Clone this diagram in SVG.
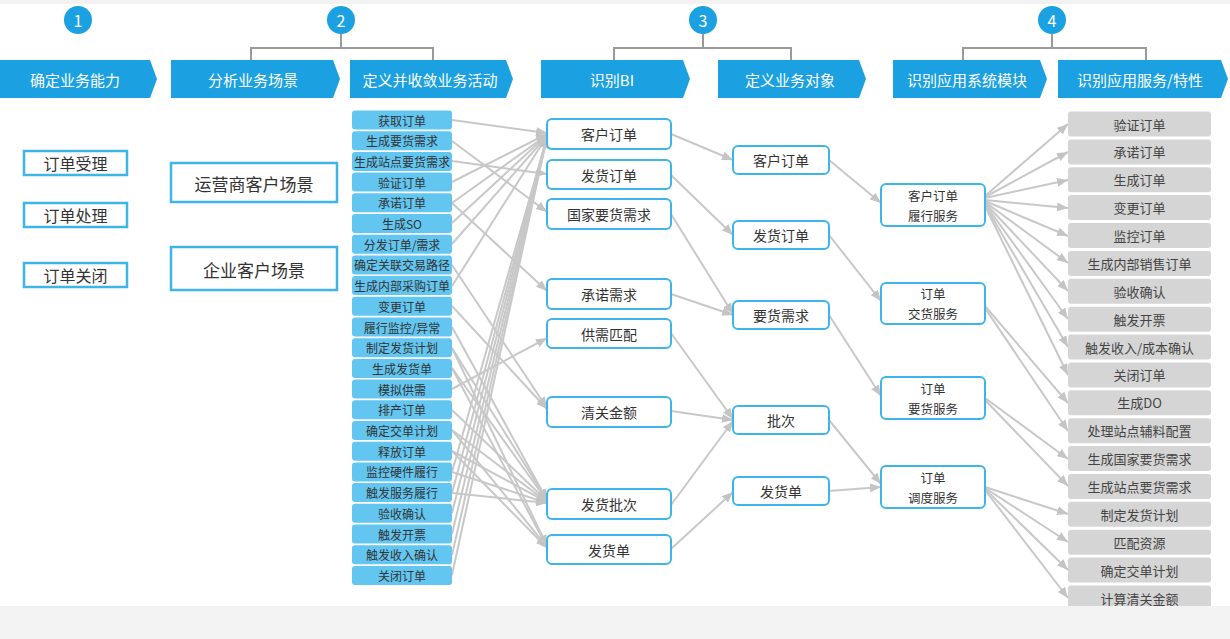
<svg xmlns="http://www.w3.org/2000/svg" width="1230" height="639" viewBox="0 0 1230 639">
<defs>
<marker id="ah" markerUnits="userSpaceOnUse" markerWidth="11" markerHeight="9" refX="11" refY="4.5" orient="auto"><path d="M0,0 L11,4.5 L0,9 z" fill="#c4c4c4"/></marker>
<style>
text{font-family:"Noto Sans CJK SC","Noto Sans",sans-serif;text-anchor:middle;dominant-baseline:central}
.num{fill:#1ba1e2}
.numt{fill:#fff;font-size:16px}
.ban{fill:#1ba1e2}
.bant{fill:#fff;font-size:15px}
.brk{fill:none;stroke:#9a9a9a;stroke-width:2}
.sq{fill:#fff;stroke:#3db5e8;stroke-width:2.5}
.sqt{fill:#333;font-size:17px}
.act{fill:#62c6f1}
.actt{fill:#333;font-size:12px}
.rb{fill:#fff;stroke:#3db5e8;stroke-width:2;rx:5}
.rbt{fill:#333;font-size:14px}
.mt{fill:#333;font-size:12.5px}
.svc{fill:#d5d5d5}
.svct{fill:#444;font-size:13px}
.cn line{stroke:#c8c8c8;stroke-width:2;marker-end:url(#ah)}
</style>
</defs>
<rect x="0" y="0" width="1230" height="639" fill="#fff"/>
<rect x="0" y="0" width="1230" height="4" fill="#f2f2f3"/>

<g id="header">
<circle class="num" cx="78" cy="20" r="14"/><text class="numt" x="78" y="20">1</text>
<circle class="num" cx="341" cy="20" r="14"/><text class="numt" x="341" y="20">2</text>
<circle class="num" cx="703" cy="20" r="14"/><text class="numt" x="703" y="20">3</text>
<circle class="num" cx="1052" cy="20" r="14"/><text class="numt" x="1052" y="20">4</text>
<path class="brk" d="M341,34 V48 M251,60 V48 H433 V60"/>
<path class="brk" d="M703,34 V48 M614,60 V48 H791 V60"/>
<path class="brk" d="M1052,34 V48 M963,60 V48 H1146 V60"/>
<polygon class="ban" points="0,60 150,60 157,79 150,98 0,98"/><text class="bant" x="75" y="79">确定业务能力</text>
<polygon class="ban" points="171,60 333,60 340,79 333,98 171,98"/><text class="bant" x="253" y="79">分析业务场景</text>
<polygon class="ban" points="350,60 506,60 513,79 506,98 350,98"/><text class="bant" x="430" y="79">定义并收敛业务活动</text>
<polygon class="ban" points="541,60 683,60 690,79 683,98 541,98"/><text class="bant" x="612" y="79">识别BI</text>
<polygon class="ban" points="718,60 859,60 866,79 859,98 718,98"/><text class="bant" x="790" y="79">定义业务对象</text>
<polygon class="ban" points="893,60 1040,60 1047,79 1040,98 893,98"/><text class="bant" x="967" y="79">识别应用系统模块</text>
<polygon class="ban" points="1058,60 1221,60 1228,79 1221,98 1058,98"/><text class="bant" x="1140" y="79">识别应用服务/特性</text>
</g>

<g id="cap1"><rect class="sq" x="24" y="151" width="103" height="24"/><text class="sqt" x="75.5" y="163" style="font-size:16px">订单受理</text></g>
<g id="cap2"><rect class="sq" x="24" y="203" width="103" height="24"/><text class="sqt" x="75.5" y="215" style="font-size:16px">订单处理</text></g>
<g id="cap3"><rect class="sq" x="24" y="263" width="103" height="24"/><text class="sqt" x="75.5" y="275" style="font-size:16px">订单关闭</text></g>
<g id="scn1"><rect class="sq" x="171" y="163" width="166" height="39"/><text class="sqt" x="254" y="183">运营商客户场景</text></g>
<g id="scn2"><rect class="sq" x="171" y="247" width="166" height="43"/><text class="sqt" x="254" y="269">企业客户场景</text></g>

<g id="connectors" class="cn">
<line x1="452" y1="120" x2="547" y2="133"/>
<line x1="452" y1="182" x2="547" y2="134"/>
<line x1="452" y1="203" x2="547" y2="135"/>
<line x1="452" y1="223" x2="547" y2="135"/>
<line x1="452" y1="244" x2="547" y2="136"/>
<line x1="452" y1="286" x2="547" y2="136"/>
<line x1="452" y1="472" x2="547" y2="137"/>
<line x1="452" y1="493" x2="547" y2="137"/>
<line x1="452" y1="513" x2="547" y2="137"/>
<line x1="452" y1="534" x2="547" y2="137"/>
<line x1="452" y1="555" x2="547" y2="137"/>
<line x1="452" y1="575" x2="547" y2="137"/>
<line x1="452" y1="161" x2="547" y2="174"/>
<line x1="452" y1="141" x2="547" y2="212"/>
<line x1="452" y1="203" x2="547" y2="291"/>
<line x1="452" y1="389" x2="547" y2="338"/>
<line x1="452" y1="265" x2="547" y2="408"/>
<line x1="452" y1="306" x2="547" y2="409"/>
<line x1="452" y1="327" x2="547" y2="500"/>
<line x1="452" y1="348" x2="547" y2="500"/>
<line x1="452" y1="368" x2="547" y2="501"/>
<line x1="452" y1="410" x2="547" y2="501"/>
<line x1="452" y1="430" x2="547" y2="502"/>
<line x1="452" y1="451" x2="547" y2="502"/>
<line x1="452" y1="472" x2="547" y2="503"/>
<line x1="452" y1="493" x2="547" y2="503"/>
<line x1="452" y1="348" x2="547" y2="546"/>
<line x1="452" y1="368" x2="547" y2="547"/>
<line x1="452" y1="430" x2="547" y2="547"/>
<line x1="452" y1="451" x2="547" y2="548"/>
<line x1="671" y1="134" x2="733" y2="160"/>
<line x1="671" y1="175" x2="733" y2="235"/>
<line x1="671" y1="214" x2="733" y2="314"/>
<line x1="671" y1="294" x2="733" y2="315"/>
<line x1="671" y1="333" x2="733" y2="419"/>
<line x1="671" y1="411" x2="733" y2="420"/>
<line x1="671" y1="505" x2="733" y2="421"/>
<line x1="671" y1="549" x2="733" y2="492"/>
<line x1="829" y1="160" x2="881" y2="203"/>
<line x1="829" y1="235" x2="881" y2="301"/>
<line x1="829" y1="315" x2="881" y2="396"/>
<line x1="829" y1="420" x2="881" y2="484"/>
<line x1="829" y1="491" x2="881" y2="487"/>
<line x1="985" y1="196" x2="1068" y2="124"/>
<line x1="985" y1="197" x2="1068" y2="152"/>
<line x1="985" y1="198" x2="1068" y2="180"/>
<line x1="985" y1="200" x2="1068" y2="208"/>
<line x1="985" y1="201" x2="1068" y2="236"/>
<line x1="985" y1="202" x2="1068" y2="263"/>
<line x1="985" y1="203" x2="1068" y2="291"/>
<line x1="985" y1="204" x2="1068" y2="319"/>
<line x1="985" y1="205" x2="1068" y2="347"/>
<line x1="985" y1="206" x2="1068" y2="375"/>
<line x1="985" y1="306" x2="1068" y2="403"/>
<line x1="985" y1="308" x2="1068" y2="431"/>
<line x1="985" y1="398" x2="1068" y2="459"/>
<line x1="985" y1="400" x2="1068" y2="486"/>
<line x1="985" y1="487" x2="1068" y2="514"/>
<line x1="985" y1="488" x2="1068" y2="542"/>
<line x1="985" y1="489" x2="1068" y2="570"/>
<line x1="985" y1="490" x2="1068" y2="598"/>
</g>

<g id="act01"><rect class="act" x="352" y="110.5" width="100" height="19" rx="3"/><text class="actt" x="402" y="120">获取订单</text></g>
<g id="act02"><rect class="act" x="352" y="131.2" width="100" height="19" rx="3"/><text class="actt" x="402" y="140.7">生成要货需求</text></g>
<g id="act03"><rect class="act" x="352" y="151.9" width="100" height="19" rx="3"/><text class="actt" x="402" y="161.4">生成站点要货需求</text></g>
<g id="act04"><rect class="act" x="352" y="172.6" width="100" height="19" rx="3"/><text class="actt" x="402" y="182.1">验证订单</text></g>
<g id="act05"><rect class="act" x="352" y="193.3" width="100" height="19" rx="3"/><text class="actt" x="402" y="202.8">承诺订单</text></g>
<g id="act06"><rect class="act" x="352" y="214" width="100" height="19" rx="3"/><text class="actt" x="402" y="223.5">生成SO</text></g>
<g id="act07"><rect class="act" x="352" y="234.7" width="100" height="19" rx="3"/><text class="actt" x="402" y="244.2">分发订单/需求</text></g>
<g id="act08"><rect class="act" x="352" y="255.4" width="100" height="19" rx="3"/><text class="actt" x="402" y="264.9">确定关联交易路径</text></g>
<g id="act09"><rect class="act" x="352" y="276.1" width="100" height="19" rx="3"/><text class="actt" x="402" y="285.6">生成内部采购订单</text></g>
<g id="act10"><rect class="act" x="352" y="296.8" width="100" height="19" rx="3"/><text class="actt" x="402" y="306.3">变更订单</text></g>
<g id="act11"><rect class="act" x="352" y="317.5" width="100" height="19" rx="3"/><text class="actt" x="402" y="327">履行监控/异常</text></g>
<g id="act12"><rect class="act" x="352" y="338.2" width="100" height="19" rx="3"/><text class="actt" x="402" y="347.7">制定发货计划</text></g>
<g id="act13"><rect class="act" x="352" y="358.9" width="100" height="19" rx="3"/><text class="actt" x="402" y="368.4">生成发货单</text></g>
<g id="act14"><rect class="act" x="352" y="379.6" width="100" height="19" rx="3"/><text class="actt" x="402" y="389.1">模拟供需</text></g>
<g id="act15"><rect class="act" x="352" y="400.3" width="100" height="19" rx="3"/><text class="actt" x="402" y="409.8">排产订单</text></g>
<g id="act16"><rect class="act" x="352" y="421" width="100" height="19" rx="3"/><text class="actt" x="402" y="430.5">确定交单计划</text></g>
<g id="act17"><rect class="act" x="352" y="441.7" width="100" height="19" rx="3"/><text class="actt" x="402" y="451.2">释放订单</text></g>
<g id="act18"><rect class="act" x="352" y="462.4" width="100" height="19" rx="3"/><text class="actt" x="402" y="471.9">监控硬件履行</text></g>
<g id="act19"><rect class="act" x="352" y="483.1" width="100" height="19" rx="3"/><text class="actt" x="402" y="492.6">触发服务履行</text></g>
<g id="act20"><rect class="act" x="352" y="503.8" width="100" height="19" rx="3"/><text class="actt" x="402" y="513.3">验收确认</text></g>
<g id="act21"><rect class="act" x="352" y="524.5" width="100" height="19" rx="3"/><text class="actt" x="402" y="534">触发开票</text></g>
<g id="act22"><rect class="act" x="352" y="545.2" width="100" height="19" rx="3"/><text class="actt" x="402" y="554.7">触发收入确认</text></g>
<g id="act23"><rect class="act" x="352" y="565.9" width="100" height="19" rx="3"/><text class="actt" x="402" y="575.4">关闭订单</text></g>

<g id="bi1"><rect class="rb" x="547" y="119" width="124" height="30"/><text class="rbt" x="609" y="134">客户订单</text></g>
<g id="bi2"><rect class="rb" x="547" y="160" width="124" height="29"/><text class="rbt" x="609" y="174.5">发货订单</text></g>
<g id="bi3"><rect class="rb" x="547" y="199" width="124" height="30"/><text class="rbt" x="609" y="214">国家要货需求</text></g>
<g id="bi4"><rect class="rb" x="547" y="279" width="124" height="30"/><text class="rbt" x="609" y="294">承诺需求</text></g>
<g id="bi5"><rect class="rb" x="547" y="319" width="124" height="29"/><text class="rbt" x="609" y="333.5">供需匹配</text></g>
<g id="bi6"><rect class="rb" x="547" y="397" width="124" height="30"/><text class="rbt" x="609" y="412">清关金额</text></g>
<g id="bi7"><rect class="rb" x="547" y="489" width="124" height="30"/><text class="rbt" x="609" y="504">发货批次</text></g>
<g id="bi8"><rect class="rb" x="547" y="535" width="124" height="29"/><text class="rbt" x="609" y="549.5">发货单</text></g>

<g id="bo1"><rect class="rb" x="733" y="146" width="96" height="28"/><text class="rbt" x="781" y="160">客户订单</text></g>
<g id="bo2"><rect class="rb" x="733" y="221" width="96" height="28"/><text class="rbt" x="781" y="235">发货订单</text></g>
<g id="bo3"><rect class="rb" x="733" y="301" width="96" height="28"/><text class="rbt" x="781" y="315">要货需求</text></g>
<g id="bo4"><rect class="rb" x="733" y="406" width="96" height="28"/><text class="rbt" x="781" y="420">批次</text></g>
<g id="bo5"><rect class="rb" x="733" y="477" width="96" height="28"/><text class="rbt" x="781" y="491">发货单</text></g>

<g id="mod1"><rect class="rb" x="881" y="184" width="104" height="42"/><text class="mt" x="933" y="195">客户订单</text><text class="mt" x="933" y="215">履行服务</text></g>
<g id="mod2"><rect class="rb" x="881" y="283" width="104" height="41"/><text class="mt" x="933" y="293.5">订单</text><text class="mt" x="933" y="313.5">交货服务</text></g>
<g id="mod3"><rect class="rb" x="881" y="377" width="104" height="42"/><text class="mt" x="933" y="388">订单</text><text class="mt" x="933" y="408">要货服务</text></g>
<g id="mod4"><rect class="rb" x="881" y="466" width="104" height="42"/><text class="mt" x="933" y="477">订单</text><text class="mt" x="933" y="497">调度服务</text></g>

<g id="svc01"><rect class="svc" x="1068" y="111.5" width="143" height="25" rx="3"/><text class="svct" x="1139.5" y="124">验证订单</text></g>
<g id="svc02"><rect class="svc" x="1068" y="139.4" width="143" height="25" rx="3"/><text class="svct" x="1139.5" y="151.9">承诺订单</text></g>
<g id="svc03"><rect class="svc" x="1068" y="167.3" width="143" height="25" rx="3"/><text class="svct" x="1139.5" y="179.8">生成订单</text></g>
<g id="svc04"><rect class="svc" x="1068" y="195.1" width="143" height="25" rx="3"/><text class="svct" x="1139.5" y="207.6">变更订单</text></g>
<g id="svc05"><rect class="svc" x="1068" y="223" width="143" height="25" rx="3"/><text class="svct" x="1139.5" y="235.5">监控订单</text></g>
<g id="svc06"><rect class="svc" x="1068" y="250.9" width="143" height="25" rx="3"/><text class="svct" x="1139.5" y="263.4">生成内部销售订单</text></g>
<g id="svc07"><rect class="svc" x="1068" y="278.8" width="143" height="25" rx="3"/><text class="svct" x="1139.5" y="291.3">验收确认</text></g>
<g id="svc08"><rect class="svc" x="1068" y="306.7" width="143" height="25" rx="3"/><text class="svct" x="1139.5" y="319.2">触发开票</text></g>
<g id="svc09"><rect class="svc" x="1068" y="334.5" width="143" height="25" rx="3"/><text class="svct" x="1139.5" y="347">触发收入/成本确认</text></g>
<g id="svc10"><rect class="svc" x="1068" y="362.4" width="143" height="25" rx="3"/><text class="svct" x="1139.5" y="374.9">关闭订单</text></g>
<g id="svc11"><rect class="svc" x="1068" y="390.3" width="143" height="25" rx="3"/><text class="svct" x="1139.5" y="402.8">生成DO</text></g>
<g id="svc12"><rect class="svc" x="1068" y="418.2" width="143" height="25" rx="3"/><text class="svct" x="1139.5" y="430.7">处理站点辅料配置</text></g>
<g id="svc13"><rect class="svc" x="1068" y="446.1" width="143" height="25" rx="3"/><text class="svct" x="1139.5" y="458.6">生成国家要货需求</text></g>
<g id="svc14"><rect class="svc" x="1068" y="473.9" width="143" height="25" rx="3"/><text class="svct" x="1139.5" y="486.4">生成站点要货需求</text></g>
<g id="svc15"><rect class="svc" x="1068" y="501.8" width="143" height="25" rx="3"/><text class="svct" x="1139.5" y="514.3">制定发货计划</text></g>
<g id="svc16"><rect class="svc" x="1068" y="529.7" width="143" height="25" rx="3"/><text class="svct" x="1139.5" y="542.2">匹配资源</text></g>
<g id="svc17"><rect class="svc" x="1068" y="557.6" width="143" height="25" rx="3"/><text class="svct" x="1139.5" y="570.1">确定交单计划</text></g>
<g id="svc18"><rect class="svc" x="1068" y="585.5" width="143" height="25" rx="3"/><text class="svct" x="1139.5" y="598">计算清关金额</text></g>

<rect x="0" y="606" width="1230" height="33" fill="#f3f3f4"/>
</svg>
